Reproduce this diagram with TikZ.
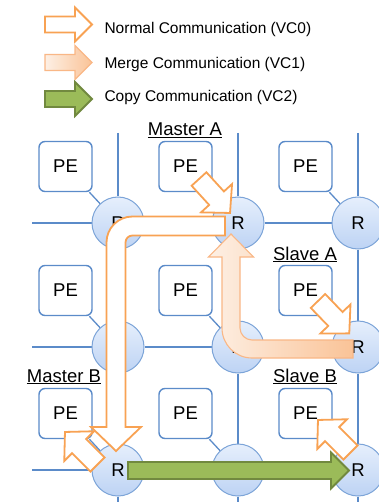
\documentclass[tikz,border=0pt]{standalone}
\usepackage{fontspec}
\setmainfont{Liberation Sans}
\usepackage{tikz}
\usetikzlibrary{calc, backgrounds}
\definecolor{meshblue}{HTML}{5B8BC9}
\definecolor{routerTop}{HTML}{E6EFFC}
\definecolor{routerBot}{HTML}{BDD3F4}
\definecolor{routerRim}{HTML}{7CA4D8}
\definecolor{vcNormal}{HTML}{F8A253}
\definecolor{vcMergeRim}{HTML}{F9B786}
\definecolor{vcMergeL}{HTML}{FDF0E5}
\definecolor{vcMergeR}{HTML}{FAC397}
\definecolor{vcCopy}{HTML}{9BBB59}
\definecolor{vcCopyRim}{HTML}{71893F}
% block arrow: style, tail point, angle, length, half shaft, half head, head length
\newcommand{\blockarrow}[7]{%
    \draw[#1, shift={#2}, rotate=#3]
        (0,-#5) -- (#4-#7,-#5) -- (#4-#7,-#6) -- (#4,0)
        -- (#4-#7,#6) -- (#4-#7,#5) -- (0,#5) -- cycle;}

\begin{document}
\begin{tikzpicture}[
            x=1pt, y=-1pt,
            font=\fontsize{18.5}{22}\selectfont,
            wire/.style  ={draw=meshblue, line width=1.3pt},
            router/.style={circle, draw=routerRim, line width=1pt, top color=routerTop,
                           bottom color=routerBot, minimum size=52pt, inner sep=0pt},
            pe/.style    ={draw=meshblue, line width=1.4pt, fill=white, rounded corners=6pt,
                           minimum width=53pt, minimum height=50pt, inner sep=0pt},
            nlabel/.style={anchor=base},
            legend/.style={anchor=base west, font=\fontsize{15.5}{18}\selectfont},
            vc0/.style   ={draw=vcNormal, fill=white, line width=1.8pt},
            vc1/.style   ={draw=vcMergeRim, left color=vcMergeL, right color=vcMergeR, line width=1.1pt},
            vc2/.style   ={draw=vcCopyRim, fill=vcCopy, line width=1.8pt}
        ]
        \useasboundingbox (0,0) rectangle (378,502);

        %% ===== Legend =====
        \blockarrow{vc0}{(45,24.5)}{0}{47}{8}{17}{17}
        \node[legend] (k0) at (101,33.3) {Normal Communication (VC0)};
        \blockarrow{vc1}{(45,62.5)}{0}{47}{8}{17}{17}
        \node[legend] (k1) at (101,68.3) {Merge Communication (VC1)};
        \blockarrow{vc2}{(45,99)}{0}{47}{8}{17}{17}
        \node[legend] (k2) at (101,101.7) {Copy Communication (VC2)};

        %% ===== 3x3 mesh: routers and PEs =====
        \node[router] (r11) at (118,223) {R};
        \node[router] (r12) at (238,223) {R};
        \node[router] (r13) at (358,223) {R};
        \node[router] (r21) at (118,347) {R};
        \node[router] (r22) at (238,347) {R};
        \node[router] (r23) at (358,347) {R};
        \node[router] (r31) at (118,470) {R};
        \node[router] (r32) at (238,470) {R};
        \node[router] (r33) at (358,470) {R};

        \node[pe] (p11) at ($(r11)+(-52.5,-56.5)$) {PE};
        \node[pe] (p12) at ($(r12)+(-52.5,-56.5)$) {PE};
        \node[pe] (p13) at ($(r13)+(-52.5,-56.5)$) {PE};
        \node[pe] (p21) at ($(r21)+(-52.5,-56.5)$) {PE};
        \node[pe] (p22) at ($(r22)+(-52.5,-56.5)$) {PE};
        \node[pe] (p23) at ($(r23)+(-52.5,-56.5)$) {PE};
        \node[pe] (p31) at ($(r31)+(-52.5,-56.5)$) {PE};
        \node[pe] (p32) at ($(r32)+(-52.5,-56.5)$) {PE};
        \node[pe] (p33) at ($(r33)+(-52.5,-56.5)$) {PE};

        % free ends of the mesh wires
        \coordinate (t1) at (118,133); \coordinate (b1) at (118,505);
        \coordinate (t2) at (238,133); \coordinate (b2) at (238,505);
        \coordinate (t3) at (358,133); \coordinate (b3) at (358,505);
        \coordinate (w1) at (32,223);  \coordinate (e1) at (382,223);
        \coordinate (w2) at (32,347);  \coordinate (e2) at (382,347);
        \coordinate (w3) at (32,470);  \coordinate (e3) at (382,470);

        \begin{scope}[on background layer]
            \draw[wire] (t1) -- (r11) -- (r21) -- (r31) -- (b1);
            \draw[wire] (t2) -- (r12) -- (r22) -- (r32) -- (b2);
            \draw[wire] (t3) -- (r13) -- (r23) -- (r33) -- (b3);
            \draw[wire] (w1) -- (r11) -- (r12) -- (r13) -- (e1);
            \draw[wire] (w2) -- (r21) -- (r22) -- (r23) -- (e2);
            \draw[wire] (w3) -- (r31) -- (r32) -- (r33) -- (e3);
            \draw[wire] (p11) -- (r11); \draw[wire] (p12) -- (r12); \draw[wire] (p13) -- (r13);
            \draw[wire] (p21) -- (r21); \draw[wire] (p22) -- (r22); \draw[wire] (p23) -- (r23);
            \draw[wire] (p31) -- (r31); \draw[wire] (p32) -- (r32); \draw[wire] (p33) -- (r33);
        \end{scope}

        \node[nlabel] (mA) at (185,136) {\underline{Master A}};
        \node[nlabel] (sA) at (305,260) {\underline{Slave A}};
        \node[nlabel] (mB) at (64,382)  {\underline{Master B}};
        \node[nlabel] (sB) at (305,382) {\underline{Slave B}};

        %% ===== Traffic =====
        % PE -> router injections / router -> PE ejection (VC0)
        \blockarrow{vc0}{(199,179)}{-47.6}{46}{10}{21}{20}
        \blockarrow{vc0}{(318,301)}{-46}{45}{10}{21}{20}
        \blockarrow{vc0}{(350.5,452.5)}{135}{46}{10}{21}{20}

        % copy: Master B -> Slave B
        \blockarrow{vc2}{(128,470.5)}{0}{221}{8.5}{18}{18}

        % merge: Slave A -> Master A
        \draw[vc1] (231,234) -- (253.5,257) -- (240,257) -- (240,328)
            .. controls (240,334.6) and (245.4,340) .. (252,340)
            -- (353,340) -- (353,358) -- (252,358)
            .. controls (235.4,358) and (222,344.6) .. (222,328)
            -- (222,257) -- (208.5,257) -- cycle;

        \blockarrow{vc0}{(97.5,464.5)}{135}{46}{10}{21}{20}

        % normal: Master A -> Master B
        \draw[vc0] (225,216.5) -- (132.5,216.5)
            .. controls (118.1,216.5) and (106.5,228.1) .. (106.5,242.5)
            -- (106.5,427) -- (91,427) -- (116,451) -- (141,427) -- (125.5,427)
            -- (125.5,242.5) .. controls (125.5,238.6) and (128.6,235.5) .. (132.5,235.5)
            -- (225,235.5) -- cycle;

    \end{tikzpicture}
\end{document}
